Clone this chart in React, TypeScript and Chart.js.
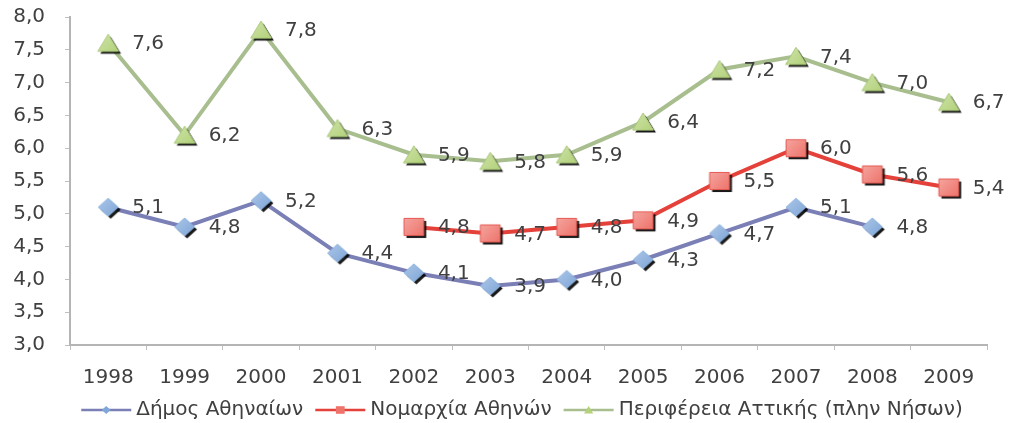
import React, { useEffect, useRef } from "react";
import { Chart, registerables } from "chart.js";

Chart.register(...registerables);

const years = ["1998", "1999", "2000", "2001", "2002", "2003", "2004", "2005", "2006", "2007", "2008", "2009"];
const dimosAthinaion = [5.1, 4.8, 5.2, 4.4, 4.1, 3.9, 4.0, 4.3, 4.7, 5.1, 4.8, null];
const nomarxiaAthinon = [null, null, null, null, 4.8, 4.7, 4.8, 4.9, 5.5, 6.0, 5.6, 5.4];
const perifereiaAttikis = [7.6, 6.2, 7.8, 6.3, 5.9, 5.8, 5.9, 6.4, 7.2, 7.4, 7.0, 6.7];
const seriesNames = ["Δήμος Αθηναίων", "Νομαρχία Αθηνών", "Περιφέρεια Αττικής (πλην Νήσων)"];

const FONT = "DejaVu Sans";
const fmt = (v: number) => v.toFixed(1).replace(".", ",");

type Kind = "diamond" | "square" | "triangle";

function shapePath(ctx: CanvasRenderingContext2D, kind: Kind, cx: number, cy: number, s: number) {
  ctx.beginPath();
  if (kind === "diamond") {
    ctx.moveTo(cx, cy - s);
    ctx.lineTo(cx + s * 1.1, cy);
    ctx.lineTo(cx, cy + s);
    ctx.lineTo(cx - s * 1.1, cy);
  } else if (kind === "square") {
    ctx.rect(cx - s * 1.1, cy - s * 0.95, s * 2.2, s * 1.9);
  } else {
    ctx.moveTo(cx, cy - s * 1.0);
    ctx.lineTo(cx + s * 1.15, cy + s * 0.9);
    ctx.lineTo(cx - s * 1.15, cy + s * 0.9);
  }
  ctx.closePath();
}

function makeMarker(kind: Kind, fill: string, stroke: string, s: number) {
  const c = document.createElement("canvas");
  const pad = 8;
  const w = Math.ceil(s * 2.4 + pad * 2);
  c.width = w;
  c.height = w;
  const ctx = c.getContext("2d")!;
  const cx = w / 2;
  const cy = w / 2;
  shapePath(ctx, kind, cx + 2.5, cy + 2.5, s);
  ctx.fillStyle = "rgba(0,0,0,0.9)";
  ctx.fill();
  shapePath(ctx, kind, cx, cy, s);
  const g = ctx.createLinearGradient(cx - s, cy - s, cx + s, cy + s);
  g.addColorStop(0, "rgba(255,255,255,0.35)");
  g.addColorStop(1, "rgba(255,255,255,0)");
  ctx.fillStyle = fill;
  ctx.fill();
  ctx.fillStyle = g;
  ctx.fill();
  ctx.lineWidth = 1;
  ctx.strokeStyle = stroke;
  ctx.stroke();
  return c;
}

const lineColors = ["#7a7fb6", "#e5413b", "#a8be8e"];
const markerFills = ["#7fa7d9", "#ee746b", "#b3d27a"];
const markerStrokes = ["#8fb4e0", "#e55a52", "#a9c87a"];
const kinds: Kind[] = ["diamond", "square", "triangle"];

export default function App() {
  const ref = useRef<HTMLCanvasElement | null>(null);

  useEffect(() => {
    if (!ref.current) return;
    const markers = kinds.map((k, i) => makeMarker(k, markerFills[i], markerStrokes[i], 9));
    const values = [dimosAthinaion, nomarxiaAthinon, perifereiaAttikis];

    const labelPlugin = {
      id: "valueLabels",
      afterDatasetsDraw(chart: any) {
        const ctx = chart.ctx;
        ctx.save();
        ctx.font = `20px "${FONT}"`;
        ctx.fillStyle = "#404040";
        ctx.textAlign = "left";
        ctx.textBaseline = "middle";
        chart.data.datasets.forEach((ds: any, di: number) => {
          const meta = chart.getDatasetMeta(di);
          meta.data.forEach((el: any, i: number) => {
            const v = ds.data[i];
            if (v === null || v === undefined) return;
            ctx.fillText(fmt(v), el.x + 24, el.y + 1);
          });
        });
        ctx.restore();
      },
    };

    const legendPlugin = {
      id: "customLegend",
      afterDraw(chart: any) {
        const ctx = chart.ctx;
        ctx.save();
        ctx.font = `20px "${FONT}"`;
        const sampleW = 50;
        const gapText = 5;
        const gapItem = 12;
        const widths = seriesNames.map((n) => ctx.measureText(n).width);
        const total = widths.reduce((a, b) => a + b, 0) + seriesNames.length * (sampleW + gapText) + gapItem * (seriesNames.length - 1);
        let x = 522 - total / 2;
        const y = 410;
        seriesNames.forEach((n, i) => {
          ctx.strokeStyle = lineColors[i];
          ctx.lineWidth = 2.5;
          ctx.beginPath();
          ctx.moveTo(x, y);
          ctx.lineTo(x + sampleW, y);
          ctx.stroke();
          shapePath(ctx, kinds[i], x + sampleW / 2, y, 4);
          ctx.fillStyle = markerFills[i];
          ctx.fill();
          ctx.fillStyle = "#404040";
          ctx.textAlign = "left";
          ctx.textBaseline = "middle";
          ctx.fillText(n, x + sampleW + gapText, y);
          x += sampleW + gapText + widths[i] + gapItem;
        });
        ctx.restore();
      },
    };

    const chart = new Chart(ref.current, {
      type: "line",
      data: {
        labels: years,
        datasets: values.map((d, i) => ({
          label: seriesNames[i],
          data: d,
          borderColor: lineColors[i],
          backgroundColor: markerFills[i],
          borderWidth: 4,
          pointStyle: markers[i],
          pointRadius: 10,
          spanGaps: false,
          tension: 0,
        })),
      },
      options: {
        animation: false,
        responsive: false,
        devicePixelRatio: 1,
        layout: { padding: { left: 0, right: 25, top: 17, bottom: 38 } },
        plugins: {
          legend: { display: false },
          tooltip: { enabled: false },
        },
        scales: {
          x: {
            offset: true,
            grid: { offset: true, drawOnChartArea: false, drawTicks: true, tickLength: 5, color: "#c0c0c0" },
            border: { display: true, color: "#b5b5b5", width: 2 },
            ticks: { color: "#404040", font: { family: FONT, size: 20 }, padding: 16, maxRotation: 0, autoSkip: false },
            afterFit: (s: any) => {
              s.height = 40;
            },
          },
          y: {
            min: 3,
            max: 8,
            grid: { drawOnChartArea: false, drawTicks: true, tickLength: 5, color: "#c0c0c0" },
            border: { display: true, color: "#b5b5b5", width: 2 },
            ticks: {
              stepSize: 0.5,
              color: "#404040",
              font: { family: FONT, size: 20 },
              padding: 20,
              callback: (v: any) => fmt(Number(v)),
            },
            afterFit: (s: any) => {
              s.width = 70;
              s.paddingTop = 0;
              s.paddingBottom = 0;
            },
          },
        },
      },
      plugins: [labelPlugin, legendPlugin],
    });
    return () => chart.destroy();
  }, []);

  return (
    <div style={{ position: "absolute", left: 0, top: 0, width: 1012, height: 423, background: "#fff" }}>
      <canvas ref={ref} width={1012} height={423} style={{ width: 1012, height: 423, display: "block" }} />
    </div>
  );
}
